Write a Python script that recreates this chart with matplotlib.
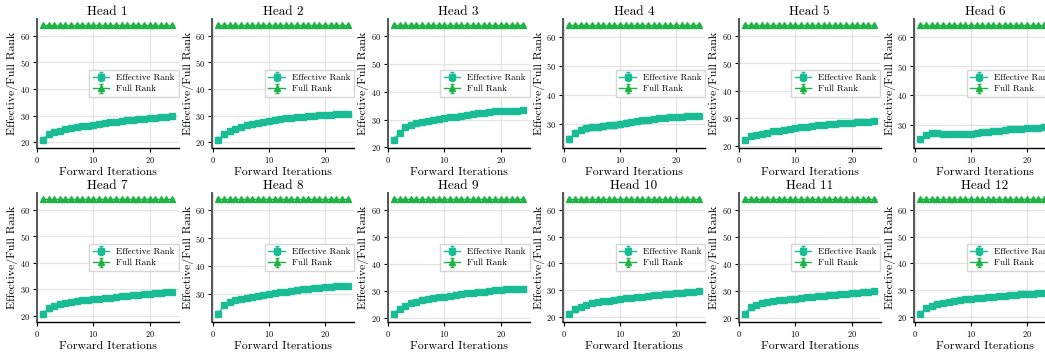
import numpy as np
import matplotlib as mpl
import matplotlib.pyplot as plt

# Forward iterations 1..24
iters = list(range(1, 25))
full_rank = [64] * 24

eff_h1 = [21.0, 23.0, 23.8, 24.4, 24.9, 25.3, 25.7, 26.0, 26.3, 26.6, 26.9, 27.2,
          27.5, 27.8, 28.0, 28.3, 28.5, 28.7, 28.9, 29.1, 29.3, 29.5, 29.6, 29.8]
eff_h2 = [21.0, 23.0, 24.3, 25.2, 25.9, 26.5, 27.0, 27.4, 27.8, 28.1, 28.4, 28.7,
          29.0, 29.2, 29.4, 29.6, 29.8, 30.0, 30.1, 30.3, 30.4, 30.5, 30.6, 30.7]
eff_h3 = [22.8, 25.3, 27.2, 28.2, 28.8, 29.2, 29.6, 29.9, 30.2, 30.5, 30.8, 31.1,
          31.4, 31.7, 32.0, 32.3, 32.5, 32.7, 32.9, 33.0, 33.1, 33.2, 33.2, 33.3]
eff_h4 = [25.0, 27.0, 28.2, 28.7, 29.0, 29.2, 29.4, 29.6, 29.9, 30.1, 30.4, 30.7,
          31.0, 31.3, 31.6, 31.8, 32.0, 32.2, 32.4, 32.5, 32.6, 32.7, 32.8, 32.9]
eff_h5 = [22.3, 23.6, 24.1, 24.5, 24.9, 25.3, 25.6, 25.9, 26.2, 26.5, 26.8, 27.0,
          27.3, 27.5, 27.7, 27.9, 28.1, 28.3, 28.4, 28.5, 28.6, 28.7, 28.8, 28.9]
eff_h6 = [25.0, 26.5, 27.2, 27.1, 26.9, 26.7, 26.7, 26.7, 26.8, 27.0, 27.2, 27.4,
          27.6, 27.8, 28.0, 28.2, 28.4, 28.6, 28.7, 28.8, 28.9, 29.0, 29.1, 29.2]
eff_h7 = [20.9, 22.9, 23.8, 24.5, 25.0, 25.3, 25.6, 25.9, 26.1, 26.3, 26.5, 26.7,
          26.9, 27.2, 27.4, 27.6, 27.8, 28.0, 28.2, 28.4, 28.6, 28.8, 29.0, 29.2]
eff_h8 = [23.0, 26.0, 27.2, 27.8, 28.3, 28.7, 29.1, 29.4, 29.7, 30.0, 30.3, 30.6,
          30.9, 31.2, 31.5, 31.7, 31.9, 32.1, 32.3, 32.5, 32.6, 32.7, 32.8, 32.9]
eff_h9 = [21.5, 23.3, 24.5, 25.3, 25.9, 26.4, 26.8, 27.2, 27.5, 27.8, 28.1, 28.4,
          28.7, 29.0, 29.2, 29.5, 29.7, 29.9, 30.1, 30.3, 30.5, 30.6, 30.7, 30.8]
eff_h10 = [21.3, 22.9, 23.9, 24.6, 25.1, 25.5, 25.9, 26.2, 26.5, 26.8, 27.0, 27.2,
           27.5, 27.7, 27.9, 28.1, 28.3, 28.5, 28.7, 28.9, 29.1, 29.3, 29.5, 29.7]
eff_h11 = [21.5, 23.8, 24.8, 25.5, 25.9, 26.2, 26.5, 26.7, 26.9, 27.1, 27.3, 27.5,
           27.7, 27.9, 28.1, 28.3, 28.5, 28.7, 28.9, 29.1, 29.3, 29.5, 29.7, 29.9]
eff_h12 = [21.3, 23.3, 24.3, 24.9, 25.4, 25.8, 26.1, 26.4, 26.6, 26.8, 27.0, 27.2,
           27.4, 27.6, 27.8, 28.0, 28.2, 28.4, 28.6, 28.7, 28.8, 28.9, 29.0, 29.2]

# standard deviation over samples
err_small = [0.9, 0.8, 0.7, 0.6, 0.6, 0.5, 0.5, 0.5, 0.5, 0.4, 0.4, 0.4,
             0.4, 0.4, 0.4, 0.4, 0.3, 0.3, 0.3, 0.3, 0.3, 0.3, 0.3, 0.3]
err_large = [1.1, 1.0, 1.0, 1.0, 1.0, 1.0, 1.0, 1.0, 1.0, 1.0, 1.0, 0.9,
             0.9, 0.9, 0.8, 0.8, 0.7, 0.6, 0.5, 0.5, 0.4, 0.4, 0.4, 0.4]

heads = [eff_h1, eff_h2, eff_h3, eff_h4, eff_h5, eff_h6,
         eff_h7, eff_h8, eff_h9, eff_h10, eff_h11, eff_h12]
errs = [err_small, err_small, err_small, err_large, err_small, err_small,
        err_small, err_small, err_small, err_small, err_small, err_small]

mpl.rcParams['font.family'] = 'serif'
mpl.rcParams['font.serif'] = ['cmr10', 'DejaVu Serif']
mpl.rcParams['axes.formatter.use_mathtext'] = True
mpl.rcParams['mathtext.fontset'] = 'cm'

eff_color = '#1abc96'
full_color = '#1fb345'

fig = plt.figure(figsize=(10.45, 3.54), dpi=100)

W, H = 1045.0, 354.0
for i, (eff, err) in enumerate(zip(heads, errs)):
    row, col = divmod(i, 6)
    left = (36.5 + col * 175.5) / W
    bottom = (354 - 148) / H if row == 0 else (354 - 322) / H
    ax = fig.add_axes((left, bottom, 142 / W, 129 / H))
    ax.grid(True, color='#e3e3e3', linewidth=0.8)
    ax.set_axisbelow(True)
    ax.errorbar(iters, eff, yerr=err, marker='s', markersize=4.5, color=eff_color,
                ecolor=eff_color, elinewidth=1, capsize=1.5, linewidth=1.0,
                label='Effective Rank')
    ax.errorbar(iters, full_rank, yerr=[0] * 24, marker='^', markersize=4,
                color=full_color, ecolor=full_color, elinewidth=1, capsize=1.5,
                linewidth=1.0, label='Full Rank')
    ax.spines['top'].set_visible(False)
    ax.spines['right'].set_visible(False)
    ax.spines['left'].set_color('#555555')
    ax.spines['left'].set_linewidth(1.4)
    ax.spines['bottom'].set_linewidth(1.0)
    ax.set_xticks([0, 10, 20])
    ax.set_yticks([20, 30, 40, 50, 60])
    lo = min(e - s for e, s in zip(eff, err))
    ax.set_ylim(lo - 0.05 * (64 - lo), 64 + 0.05 * (64 - lo))
    ax.tick_params(axis='both', labelsize=6, length=3, width=0.8, pad=2)
    ax.set_title('Head %d' % (i + 1), fontsize=9.5, pad=3)
    ax.set_xlabel('Forward Iterations', fontsize=8.5, labelpad=2)
    ax.set_ylabel('Effective/Full Rank', fontsize=8.5, labelpad=1)
    ax.legend(loc='center right', fontsize=6.5, framealpha=0.8, borderpad=0.4,
              handlelength=1.8, labelspacing=0.35, edgecolor='#cccccc',
              fancybox=False, borderaxespad=0.0)

fig.savefig('out.png', dpi=100)
